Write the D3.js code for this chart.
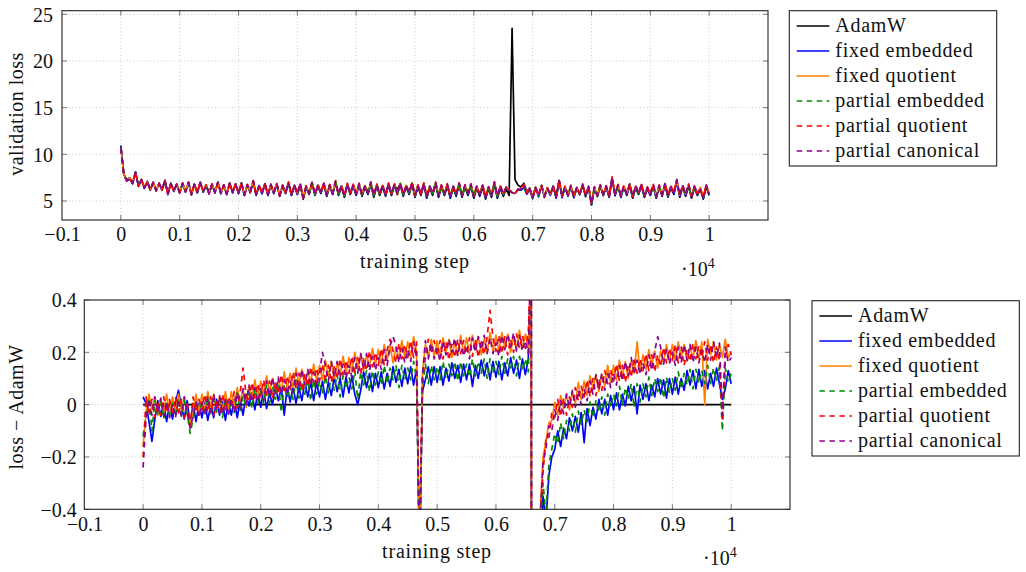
<!DOCTYPE html>
<html><head><meta charset="utf-8">
<script src="https://cdn.jsdelivr.net/npm/d3@7"></script>
<style>
body{margin:0;background:#fff}
</style></head><body>
<svg id="c" width="1026" height="572"></svg>
<script>
// ---------------- data ----------------
const steps = d3.range(0, 10001, 50); // training steps (201 samples)

// validation loss of AdamW
const adamwLoss = [
10.9, 7.9, 7.2, 7.5, 6.9, 8.1, 6.6, 7.3, 6.4, 7.1,
6.2, 7.0, 6.1, 6.9, 6.2, 7.2, 5.8, 6.9, 6.1, 6.8,
5.9, 6.9, 6.0, 7.0, 5.7, 6.8, 5.9, 7.0, 6.0, 6.7,
5.8, 6.8, 5.9, 7.0, 5.8, 6.7, 5.7, 6.9, 5.9, 6.8,
5.8, 6.9, 5.6, 6.7, 5.9, 7.1, 5.6, 6.6, 5.8, 6.8,
5.6, 6.7, 5.8, 6.8, 5.5, 6.6, 5.8, 6.9, 5.6, 6.6,
5.7, 6.7, 5.2, 6.5, 5.7, 6.9, 5.6, 6.6, 5.8, 6.8,
5.5, 6.6, 5.7, 7.0, 5.6, 6.5, 5.4, 6.7, 5.7, 6.6,
5.6, 6.7, 5.5, 6.5, 5.7, 6.8, 5.4, 6.6, 5.6, 6.5,
5.5, 6.7, 5.6, 6.6, 6.3, 6.8, 5.5, 6.5, 5.7, 6.8,
5.4, 6.5, 5.6, 6.7, 5.3, 6.4, 5.6, 6.8, 5.4, 6.5,
5.6, 6.6, 5.3, 6.4, 5.5, 6.7, 5.4, 6.5, 5.6, 6.6,
5.3, 6.4, 5.5, 6.5, 5.2, 6.3, 5.4, 6.8, 5.3, 6.4,
5.5, 6.3, 5.6, 23.5, 7.3, 6.7, 6.5, 6.9, 6.0, 6.4,
5.4, 6.5, 5.6, 6.7, 5.5, 6.4, 5.7, 6.6, 5.4, 7.2,
5.5, 6.5, 5.6, 6.6, 5.4, 6.4, 5.7, 6.7, 5.5, 6.5,
4.6, 6.4, 5.5, 6.6, 5.6, 6.5, 5.4, 7.4, 5.6, 6.6,
5.4, 6.5, 5.6, 6.7, 5.3, 6.4, 5.7, 6.6, 5.4, 6.3,
5.6, 6.6, 5.3, 6.5, 5.5, 6.7, 5.4, 6.4, 5.7, 7.1,
5.4, 6.5, 5.5, 6.6, 5.3, 6.4, 5.6, 6.3, 5.2, 6.5,
5.6];

// loss - AdamW for each method
const diffFixedEmbedded = [
0.03, 0.005, -0.065, -0.14, -0.055, 0.015, -0.045, 0.005, -0.065, 0.005,
-0.055, 0.005, 0.055, -0.005, -0.055, 0.015, -0.08, 0.005, -0.065, 0.005,
-0.05, 0.01, -0.06, 0.00, -0.05, 0.02, -0.04, 0.01, -0.06, 0.01,
-0.04, 0.02, -0.05, 0.015, -0.04, 0.04, -0.005, 0.045, -0.02, 0.05,
-0.01, 0.055, -0.015, 0.045, 0.00, 0.07, 0.015, 0.065, -0.04, 0.07,
0.01, 0.07, 0.005, 0.065, 0.015, 0.09, 0.03, 0.085, 0.015, 0.085,
0.03, 0.09, 0.02, 0.085, 0.035, 0.105, 0.05, 0.10, 0.03, 0.105,
0.045, 0.11, 0.04, 0.00, 0.055, 0.125, 0.065, 0.12, 0.05, 0.12,
0.065, 0.125, 0.06, 0.12, 0.07, 0.145, 0.085, 0.135, 0.07, 0.14,
0.08, 0.145, 0.075, 0.14, -0.6, 0.05, 0.095, 0.145, 0.075, 0.145,
0.085, 0.145, 0.075, 0.14, 0.09, 0.16, 0.10, 0.15, 0.085, 0.155,
0.095, 0.155, 0.07, 0.15, 0.10, 0.17, 0.11, 0.16, 0.095, 0.165,
0.105, 0.165, 0.095, 0.16, 0.11, 0.18, 0.12, 0.17, 0.10, 0.175,
0.115, 0.175, 0.6, -17.6, -1.5, -0.55, -0.35, -0.45, -0.27, -0.20,
-0.17, -0.10, -0.16, -0.09, -0.13, -0.05, -0.10, -0.045, -0.105, -0.03,
-0.145, -0.015, -0.08, -0.01, -0.055, 0.02, -0.035, 0.02, -0.04, 0.035,
-0.02, 0.045, -0.02, 0.04, -0.005, 0.07, 0.015, 0.07, -0.035, 0.075,
0.02, 0.08, 0.015, 0.075, 0.03, 0.10, 0.04, 0.095, 0.025, 0.10,
0.04, 0.105, 0.04, 0.10, 0.055, 0.13, 0.075, 0.13, 0.06, 0.135,
0.07, 0.13, 0.06, 0.12, 0.07, 0.14, 0.08, 0.02, 0.06, 0.13,
0.08];

const diffFixedQuotient = [
-0.16, -0.03, 0.04, -0.02, 0.03, -0.04, 0.02, -0.03, 0.04, -0.03,
0.03, -0.03, 0.04, -0.02, 0.03, -0.04, -0.07, -0.03, 0.04, -0.03,
0.04, -0.02, 0.05, -0.01, 0.04, -0.03, 0.03, -0.02, 0.05, -0.02,
0.05, -0.01, 0.065, 0.01, 0.06, -0.01, 0.07, 0.02, 0.095, 0.03,
0.09, 0.035, 0.11, 0.05, 0.10, 0.04, 0.10, 0.05, 0.125, 0.06,
0.12, 0.065, 0.14, 0.08, 0.135, 0.07, 0.13, 0.085, 0.155, 0.09,
0.15, 0.095, 0.17, 0.11, 0.165, 0.10, 0.16, 0.11, 0.185, 0.12,
0.18, 0.125, 0.20, 0.14, 0.195, 0.13, 0.19, 0.145, 0.215, 0.15,
0.21, 0.155, 0.23, 0.17, 0.225, 0.16, 0.22, 0.175, 0.245, 0.18,
0.24, 0.185, 0.26, 0.20, -0.6, 0.12, 0.23, 0.18, 0.25, 0.185,
0.245, 0.185, 0.255, 0.20, 0.25, 0.18, 0.24, 0.19, 0.265, 0.195,
0.255, 0.195, 0.265, 0.21, 0.26, 0.19, 0.25, 0.20, 0.275, 0.205,
0.265, 0.205, 0.275, 0.22, 0.27, 0.20, 0.26, 0.21, 0.285, 0.215,
0.27, 0.22, 0.6, -17.6, -1.5, -0.42, -0.20, -0.14, -0.07, -0.06,
0.01, -0.04, 0.035, -0.015, 0.04, -0.02, 0.05, 0.005, 0.085, 0.02,
0.09, 0.035, 0.11, 0.06, 0.115, 0.05, 0.115, 0.07, 0.15, 0.085,
0.15, 0.095, 0.17, 0.11, 0.165, 0.10, 0.165, 0.12, 0.24, 0.125,
0.19, 0.135, 0.21, 0.15, 0.205, 0.14, 0.205, 0.16, 0.23, 0.165,
0.23, 0.17, 0.24, 0.18, 0.23, 0.165, 0.225, 0.175, 0.245, 0.175,
0.24, 0.00, 0.25, 0.19, 0.24, 0.17, 0.23, 0.18, 0.25, 0.18,
0.20];

const diffPartialEmbedded = [
-0.12, -0.045, 0.025, -0.10, 0.015, -0.035, 0.02, -0.055, 0.015, -0.04,
0.005, -0.045, 0.025, -0.045, 0.015, -0.035, -0.11, -0.055, 0.015, -0.04,
0.01, -0.04, 0.03, -0.04, 0.02, -0.03, 0.025, -0.05, 0.02, -0.035,
0.02, -0.03, 0.045, -0.025, 0.035, -0.01, 0.06, -0.015, 0.06, 0.005,
0.05, 0.005, 0.075, 0.005, 0.07, 0.02, 0.08, -0.03, 0.075, 0.025,
0.07, 0.02, 0.095, 0.025, 0.085, 0.04, 0.095, 0.015, 0.095, 0.04,
0.09, 0.04, 0.11, 0.045, 0.105, 0.055, 0.115, 0.03, 0.11, 0.06,
0.105, 0.06, 0.13, 0.02, 0.125, 0.075, 0.13, 0.05, 0.13, 0.075,
0.125, 0.075, 0.15, 0.08, 0.14, 0.095, 0.15, 0.065, 0.15, 0.095,
0.14, 0.095, 0.165, 0.10, -0.6, 0.07, 0.155, 0.08, 0.15, 0.095,
0.145, 0.095, 0.165, 0.10, 0.155, 0.11, 0.165, 0.09, 0.165, 0.11,
0.155, 0.105, 0.175, 0.11, 0.165, 0.12, 0.175, 0.10, 0.175, 0.12,
0.165, 0.115, 0.185, 0.12, 0.175, 0.13, 0.185, 0.11, 0.185, 0.13,
0.175, 0.125, 0.6, -17.6, -1.5, -0.50, -0.30, -0.42, -0.23, -0.17,
-0.11, -0.15, -0.07, -0.13, -0.06, -0.10, -0.035, -0.105, -0.025, -0.075,
-0.02, -0.065, 0.01, -0.05, 0.015, -0.03, 0.03, -0.04, 0.04, -0.01,
0.04, -0.005, 0.07, 0.00, 0.065, 0.02, 0.08, -0.01, 0.08, 0.01,
0.08, 0.03, 0.105, 0.035, 0.10, 0.05, 0.105, 0.025, 0.105, 0.045,
0.10, 0.055, 0.125, 0.06, 0.12, 0.075, 0.135, 0.06, 0.135, 0.08,
0.13, 0.08, 0.15, 0.08, 0.14, 0.09, 0.145, -0.10, 0.14, 0.085,
0.12];

const diffPartialQuotient = [
-0.20, 0.03, -0.04, 0.02, -0.05, 0.01, -0.04, 0.03, -0.03, 0.02,
-0.03, 0.03, -0.04, 0.02, -0.05, 0.01, -0.08, 0.03, -0.03, 0.02,
-0.02, 0.04, -0.03, 0.03, -0.04, 0.02, -0.03, 0.04, -0.02, 0.03,
-0.01, 0.05, -0.015, 0.045, 0.14, 0.04, 0.01, 0.085, 0.025, 0.08,
0.03, 0.095, 0.03, 0.09, 0.025, 0.085, 0.04, 0.115, 0.055, 0.11,
0.06, 0.125, 0.06, 0.12, 0.055, 0.115, 0.07, 0.145, 0.085, 0.14,
0.09, 0.155, 0.09, 0.15, 0.085, 0.145, 0.10, 0.175, 0.115, 0.17,
0.12, 0.185, 0.12, 0.18, 0.115, 0.175, 0.13, 0.205, 0.145, 0.20,
0.15, 0.215, 0.15, 0.21, 0.25, 0.205, 0.16, 0.235, 0.175, 0.23,
0.18, 0.245, 0.18, 0.24, -0.6, 0.10, 0.18, 0.25, 0.195, 0.245,
0.185, 0.245, 0.175, 0.24, 0.17, 0.23, 0.18, 0.25, 0.195, 0.245,
0.195, 0.255, 0.185, 0.25, 0.18, 0.24, 0.19, 0.26, 0.36, 0.255,
0.205, 0.265, 0.195, 0.26, 0.19, 0.25, 0.20, 0.27, 0.215, 0.265,
0.215, 0.275, 0.6, -17.6, -1.5, -0.44, -0.26, -0.13, -0.13, -0.03,
-0.05, 0.02, -0.045, 0.025, -0.04, 0.03, -0.01, 0.065, 0.015, 0.07,
0.03, 0.095, 0.03, 0.10, 0.035, 0.10, 0.055, 0.13, 0.08, 0.135,
0.09, 0.155, 0.09, 0.15, 0.085, 0.15, 0.105, 0.18, 0.12, 0.175,
0.13, 0.195, 0.13, 0.19, 0.125, 0.19, 0.145, 0.22, 0.16, 0.215,
0.17, 0.23, 0.16, 0.22, 0.15, 0.21, 0.165, 0.235, 0.175, 0.225,
0.18, 0.24, 0.17, 0.23, 0.16, 0.22, 0.17, -0.06, 0.18, 0.23,
0.19];

const diffPartialCanonical = [
-0.24, -0.05, 0.02, -0.04, 0.03, -0.03, 0.025, -0.045, 0.01, -0.05,
0.00, -0.05, 0.02, -0.04, 0.03, -0.03, -0.09, -0.045, 0.01, -0.05,
0.01, -0.04, 0.03, -0.03, 0.04, -0.02, 0.035, -0.035, 0.02, -0.04,
0.02, -0.03, 0.045, -0.015, 0.06, 0.00, 0.075, 0.01, 0.065, 0.01,
0.06, 0.015, 0.09, 0.03, 0.105, 0.045, 0.105, 0.04, 0.095, 0.04,
0.09, 0.045, 0.12, 0.06, 0.135, 0.075, 0.135, 0.07, 0.125, 0.07,
0.12, 0.20, 0.15, 0.09, 0.165, 0.105, 0.165, 0.10, 0.155, 0.10,
0.15, 0.105, 0.18, 0.12, 0.195, 0.135, 0.195, 0.13, 0.185, 0.13,
0.18, 0.135, 0.21, 0.15, 0.225, 0.26, 0.225, 0.16, 0.215, 0.16,
0.21, 0.165, 0.24, 0.18, -0.6, 0.11, 0.245, 0.175, 0.235, 0.175,
0.215, 0.165, 0.245, 0.19, 0.25, 0.20, 0.255, 0.185, 0.245, 0.185,
0.225, 0.175, 0.255, 0.20, 0.26, 0.21, 0.265, 0.195, 0.255, 0.195,
0.235, 0.185, 0.265, 0.21, 0.27, 0.22, 0.275, 0.205, 0.265, 0.205,
0.245, 0.195, 0.6, -17.6, -1.5, -0.45, -0.22, -0.17, -0.08, -0.10,
-0.02, -0.06, 0.015, -0.035, 0.04, -0.01, 0.055, -0.01, 0.055, 0.00,
0.06, 0.015, 0.09, 0.04, 0.115, 0.06, 0.12, 0.055, 0.12, 0.065,
0.12, 0.075, 0.15, 0.09, 0.165, 0.11, 0.18, 0.115, 0.17, 0.115,
0.16, 0.115, 0.19, 0.13, 0.205, 0.26, 0.22, 0.155, 0.21, 0.155,
0.20, 0.15, 0.22, 0.16, 0.23, 0.17, 0.23, 0.16, 0.22, 0.16,
0.21, 0.16, 0.23, 0.17, 0.24, 0.18, 0.235, -0.04, 0.22, 0.16,
0.18];

const seriesNames = ["AdamW", "fixed embedded", "fixed quotient", "partial embedded", "partial quotient", "partial canonical"];
const xTickValues = [-1000, 0, 1000, 2000, 3000, 4000, 5000, 6000, 7000, 8000, 9000, 10000];
const xTickLabels = ["\u22120.1", "0", "0.1", "0.2", "0.3", "0.4", "0.5", "0.6", "0.7", "0.8", "0.9", "1"];
const topYTicks = [5, 10, 15, 20, 25];
const topYTickLabels = ["5", "10", "15", "20", "25"];
const bottomYTicks = [-0.4, -0.2, 0, 0.2, 0.4];
const bottomYTickLabels = ["\u22120.4", "\u22120.2", "0", "0.2", "0.4"];

// ---------------- styles ----------------
const FONT = "'Liberation Serif', 'Times New Roman', serif";
const colors = ["#000000", "#0000ff", "#ff8000", "#008a00", "#ff0000", "#8e0090"];
const dashes = [null, null, null, "5.5,4.5", "5.5,4.5", "5.5,4.5"];
const diffs = [diffFixedEmbedded, diffFixedQuotient, diffPartialEmbedded, diffPartialQuotient, diffPartialCanonical];

const topSeries = [adamwLoss].concat(diffs.map(d => adamwLoss.map((v, i) => v + d[i])));
const bottomSeries = [adamwLoss.map(v => v - v)].concat(diffs);

const svg = d3.select("#c");

function txt(sel, size, spacing) {
  return sel.style("font-family", FONT).style("font-size", size + "px")
    .style("letter-spacing", spacing ? spacing + "px" : null).attr("fill", "#111");
}

function panel(o) {
  const x = d3.scaleLinear().domain([-1000, 11000]).range([o.L, o.R]);
  const y = d3.scaleLinear().domain(o.yDomain).range([o.B, o.T]);
  const g = svg.append("g");
  const cid = "clip" + o.id;
  svg.append("clipPath").attr("id", cid).append("rect")
    .attr("x", o.L).attr("y", o.T).attr("width", o.R - o.L).attr("height", o.B - o.T);

  // grid
  g.append("g").selectAll("line").data(xTickValues.slice(1)).join("line")
    .attr("x1", d => x(d)).attr("x2", d => x(d)).attr("y1", o.T).attr("y2", o.B)
    .attr("stroke", "#c4c4c4").attr("stroke-width", 0.9).attr("stroke-dasharray", "1,2.4");
  g.append("g").selectAll("line").data(o.yTicks).join("line")
    .attr("x1", o.L).attr("x2", o.R).attr("y1", d => y(d)).attr("y2", d => y(d))
    .attr("stroke", "#c4c4c4").attr("stroke-width", 0.9).attr("stroke-dasharray", "1,2.4");

  // lines
  const line = d3.line().x((d, i) => x(steps[i])).y(d => y(d));
  const lg = g.append("g").attr("clip-path", `url(#${cid})`);
  o.series.forEach((s, k) => {
    lg.append("path").datum(s).attr("d", line)
      .attr("fill", "none").attr("stroke", colors[k]).attr("stroke-width", 1.7)
      .attr("stroke-linejoin", "round")
      .attr("stroke-dasharray", dashes[k]);
  });

  // ticks (inside, all four sides)
  const tl = 5;
  const tg = g.append("g").attr("stroke", "#777").attr("stroke-width", 1);
  xTickValues.slice(1).forEach(v => {
    tg.append("line").attr("x1", x(v)).attr("x2", x(v)).attr("y1", o.B).attr("y2", o.B - tl);
    tg.append("line").attr("x1", x(v)).attr("x2", x(v)).attr("y1", o.T).attr("y2", o.T + tl);
  });
  o.yTicks.forEach(v => {
    tg.append("line").attr("x1", o.L).attr("x2", o.L + tl).attr("y1", y(v)).attr("y2", y(v));
    tg.append("line").attr("x1", o.R).attr("x2", o.R - tl).attr("y1", y(v)).attr("y2", y(v));
  });

  // frame
  g.append("rect").attr("x", o.L).attr("y", o.T).attr("width", o.R - o.L).attr("height", o.B - o.T)
    .attr("fill", "none").attr("stroke", "#222").attr("stroke-width", 1.1);

  // tick labels via d3 axes
  const xa = g.append("g").attr("transform", `translate(0,${o.B})`)
    .call(d3.axisBottom(x).tickValues(xTickValues).tickSize(0).tickFormat((d, i) => xTickLabels[i]));
  xa.attr("font-family", null).attr("font-size", null);
  xa.select(".domain").remove();
  txt(xa.selectAll("text").attr("y", o.xTickBase).attr("dy", null), 20);

  const ya = g.append("g").attr("transform", `translate(${o.L},0)`)
    .call(d3.axisLeft(y).tickValues(o.yTicks).tickSize(0).tickPadding(o.yPad).tickFormat((d, i) => o.yTickLabels[i]));
  ya.attr("font-family", null).attr("font-size", null);
  ya.select(".domain").remove();
  txt(ya.selectAll("text").attr("dy", "0.34em"), 20);

  // axis titles
  txt(g.append("text").attr("x", o.xLabelX).attr("y", o.xLabelY).attr("text-anchor", "middle"), 20, 0.8)
    .text("training step");
  const sc = txt(g.append("text").attr("x", o.sciX).attr("y", o.sciY), 20);
  sc.append("tspan").text("\u00b710");
  sc.append("tspan").attr("dy", -8).style("font-size", "14px").text("4");
  txt(g.append("text").attr("transform", `translate(${o.yLabelX},${o.yLabelY}) rotate(-90)`)
    .attr("text-anchor", "middle"), 20, 0.5).text(o.yLabel);

  // legend
  const lgd = g.append("g");
  lgd.append("rect").attr("x", o.legX).attr("y", o.legY).attr("width", o.legW).attr("height", o.legH)
    .attr("fill", "#fff").attr("stroke", "#222").attr("stroke-width", 1.1);
  seriesNames.forEach((n, k) => {
    const by = o.legY + 21.6 + k * 25;
    lgd.append("line").attr("x1", o.legX + 7.4).attr("x2", o.legX + 40).attr("y1", by - 6.3).attr("y2", by - 6.3)
      .attr("stroke", colors[k]).attr("stroke-width", 1.5).attr("stroke-dasharray", dashes[k]);
    txt(lgd.append("text").attr("x", o.legX + 46).attr("y", by), 20, 0.7).text(n);
  });
}

panel({ id: 1, L: 62, R: 768, T: 10.7, B: 220, yDomain: [2.965, 25.386], yTicks: topYTicks, yTickLabels: topYTickLabels,
  series: topSeries, xTickBase: 20.7, yPad: 9, xLabelX: 415, xLabelY: 268, sciX: 681, sciY: 276,
  yLabel: "validation loss", yLabelX: 23, yLabelY: 114, legX: 789.3, legY: 10.7, legW: 207.4, legH: 155.3 });

panel({ id: 2, L: 84.3, R: 790, T: 300, B: 509.3, yDomain: [-0.4, 0.4], yTicks: bottomYTicks, yTickLabels: bottomYTickLabels,
  series: bottomSeries, xTickBase: 21.7, yPad: 7.5, xLabelX: 437, xLabelY: 558, sciX: 703, sciY: 565,
  yLabel: "loss \u2212 AdamW", yLabelX: 22.7, yLabelY: 407, legX: 812, legY: 300.7, legW: 207.3, legH: 155.3 });
</script>
</body></html>
